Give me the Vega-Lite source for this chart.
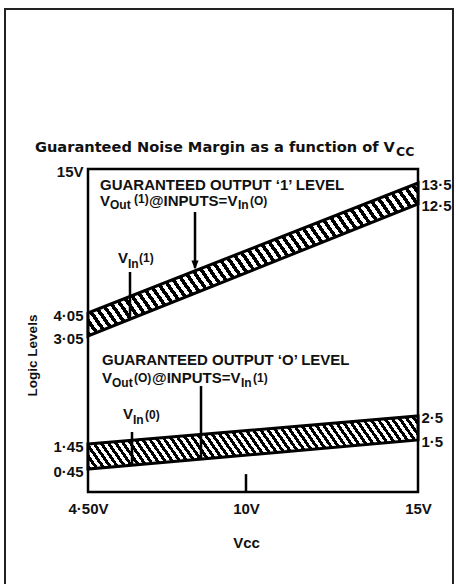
{
"$schema":"https://vega.github.io/schema/vega-lite/v6.json",
"width":330,"height":323,
"autosize":{"type":"none"},
"padding":{"left":88,"top":169,"right":38,"bottom":92},
"background":"#ffffff",
"config":{"view":{"stroke":"#000","strokeWidth":2.5}},
"datasets":{
"page":[{"x":1.611,"x2":16.017,"y":32.14,"y2":-2.5}],
"bands":[{"band":"high","x":4.5,"y":4.05,"y2":3.05},{"band":"high","x":15,"y":13.5,"y2":12.5},{"band":"low","x":4.5,"y":1.45,"y2":0.45},{"band":"low","x":15,"y":2.5,"y2":1.5}],
"markers":[{"x":8.225,"y":11.88,"y2":7.55},{"x":5.962,"y":7.228,"y2":3.833},{"x":8.434,"y":2.706,"y2":0.85},{"x":6.032,"y":1.833,"y2":0.61},{"x":10,"y":0,"y2":0.35}],
"main":[{"label":"GUARANTEED OUTPUT ‘1’ LEVEL","x":4.918,"y":13.405},{"label":"V","x":4.918,"y":12.643},{"label":"@INPUTS=V","x":6.623,"y":12.643},{"label":"V","x":5.544,"y":8.314},{"label":"GUARANTEED OUTPUT ‘O’ LEVEL","x":4.987,"y":2.885},{"label":"V","x":4.987,"y":2.761},{"label":"@INPUTS=V","x":6.728,"y":2.761},{"label":"V","x":5.718,"y":2.514}],
"sub":[{"label":"Out","x":5.266,"y":12.384},{"label":"In","x":9.722,"y":12.384},{"label":"In","x":5.892,"y":7.849},{"label":"Out","x":5.335,"y":2.727},{"label":"In","x":9.826,"y":2.727},{"label":"In","x":6.066,"y":2.333}],
"paren":[{"label":"(1)","x":6.101,"y":12.738},{"label":"(O)","x":10.116,"y":12.643},{"label":"(1)","x":6.275,"y":8.314},{"label":"(O)","x":6.101,"y":2.761},{"label":"(1)","x":10.203,"y":2.761},{"label":"(0)","x":6.484,"y":2.507}],
"heading":[{"label":"Guaranteed Noise Margin as a function of V","x":2.655,"y":17.25}],
"headingSub":[{"label":"CC","x":14.36,"y":16.82}]
},
"encoding":{
"x":{"field":"x","type":"quantitative","scale":{"domain":[4.5,10,15],"range":[0,158,330],"nice":false,"zero":false},"axis":null},
"y":{"field":"y","type":"quantitative","scale":{"domain":[0,0.45,1.45,1.5,2.5,3.05,4.05,12.5,13.5,15],"range":[323,300,275,271,247,167,144,35,14,0],"nice":false,"zero":false},"axis":null}
},
"layer":[
{"data":{"name":"page"},"mark":{"type":"rect","filled":false,"stroke":"#222","strokeWidth":2},"encoding":{"x2":{"field":"x2"},"y2":{"field":"y2"}}},
{"data":{"name":"bands"},"transform":[{"filter":"datum.band == 'high'"}],
"mark":{"type":"area","opacity":1,"stroke":"#000","strokeWidth":3,"fill":{"gradient":"linear","x1":0,"y1":1,"x2":1.198,"y2":0.612,"stops":[
{"offset":0,"color":"#000"},{"offset":0.01,"color":"#000"},{"offset":0.01,"color":"#fff"},{"offset":0.02,"color":"#fff"},
{"offset":0.02,"color":"#000"},{"offset":0.03,"color":"#000"},{"offset":0.03,"color":"#fff"},{"offset":0.04,"color":"#fff"},
{"offset":0.04,"color":"#000"},{"offset":0.05,"color":"#000"},{"offset":0.05,"color":"#fff"},{"offset":0.06,"color":"#fff"},
{"offset":0.06,"color":"#000"},{"offset":0.07,"color":"#000"},{"offset":0.07,"color":"#fff"},{"offset":0.08,"color":"#fff"},
{"offset":0.08,"color":"#000"},{"offset":0.09,"color":"#000"},{"offset":0.09,"color":"#fff"},{"offset":0.1,"color":"#fff"},
{"offset":0.1,"color":"#000"},{"offset":0.11,"color":"#000"},{"offset":0.11,"color":"#fff"},{"offset":0.12,"color":"#fff"},
{"offset":0.12,"color":"#000"},{"offset":0.13,"color":"#000"},{"offset":0.13,"color":"#fff"},{"offset":0.14,"color":"#fff"},
{"offset":0.14,"color":"#000"},{"offset":0.15,"color":"#000"},{"offset":0.15,"color":"#fff"},{"offset":0.16,"color":"#fff"},
{"offset":0.16,"color":"#000"},{"offset":0.17,"color":"#000"},{"offset":0.17,"color":"#fff"},{"offset":0.18,"color":"#fff"},
{"offset":0.18,"color":"#000"},{"offset":0.19,"color":"#000"},{"offset":0.19,"color":"#fff"},{"offset":0.2,"color":"#fff"},
{"offset":0.2,"color":"#000"},{"offset":0.21,"color":"#000"},{"offset":0.21,"color":"#fff"},{"offset":0.22,"color":"#fff"},
{"offset":0.22,"color":"#000"},{"offset":0.23,"color":"#000"},{"offset":0.23,"color":"#fff"},{"offset":0.24,"color":"#fff"},
{"offset":0.24,"color":"#000"},{"offset":0.25,"color":"#000"},{"offset":0.25,"color":"#fff"},{"offset":0.26,"color":"#fff"},
{"offset":0.26,"color":"#000"},{"offset":0.27,"color":"#000"},{"offset":0.27,"color":"#fff"},{"offset":0.28,"color":"#fff"},
{"offset":0.28,"color":"#000"},{"offset":0.29,"color":"#000"},{"offset":0.29,"color":"#fff"},{"offset":0.3,"color":"#fff"},
{"offset":0.3,"color":"#000"},{"offset":0.31,"color":"#000"},{"offset":0.31,"color":"#fff"},{"offset":0.32,"color":"#fff"},
{"offset":0.32,"color":"#000"},{"offset":0.33,"color":"#000"},{"offset":0.33,"color":"#fff"},{"offset":0.34,"color":"#fff"},
{"offset":0.34,"color":"#000"},{"offset":0.35,"color":"#000"},{"offset":0.35,"color":"#fff"},{"offset":0.36,"color":"#fff"},
{"offset":0.36,"color":"#000"},{"offset":0.37,"color":"#000"},{"offset":0.37,"color":"#fff"},{"offset":0.38,"color":"#fff"},
{"offset":0.38,"color":"#000"},{"offset":0.39,"color":"#000"},{"offset":0.39,"color":"#fff"},{"offset":0.4,"color":"#fff"},
{"offset":0.4,"color":"#000"},{"offset":0.41,"color":"#000"},{"offset":0.41,"color":"#fff"},{"offset":0.42,"color":"#fff"},
{"offset":0.42,"color":"#000"},{"offset":0.43,"color":"#000"},{"offset":0.43,"color":"#fff"},{"offset":0.44,"color":"#fff"},
{"offset":0.44,"color":"#000"},{"offset":0.45,"color":"#000"},{"offset":0.45,"color":"#fff"},{"offset":0.46,"color":"#fff"},
{"offset":0.46,"color":"#000"},{"offset":0.47,"color":"#000"},{"offset":0.47,"color":"#fff"},{"offset":0.48,"color":"#fff"},
{"offset":0.48,"color":"#000"},{"offset":0.49,"color":"#000"},{"offset":0.49,"color":"#fff"},{"offset":0.5,"color":"#fff"},
{"offset":0.5,"color":"#000"},{"offset":0.51,"color":"#000"},{"offset":0.51,"color":"#fff"},{"offset":0.52,"color":"#fff"},
{"offset":0.52,"color":"#000"},{"offset":0.53,"color":"#000"},{"offset":0.53,"color":"#fff"},{"offset":0.54,"color":"#fff"},
{"offset":0.54,"color":"#000"},{"offset":0.55,"color":"#000"},{"offset":0.55,"color":"#fff"},{"offset":0.56,"color":"#fff"},
{"offset":0.56,"color":"#000"},{"offset":0.57,"color":"#000"},{"offset":0.57,"color":"#fff"},{"offset":0.58,"color":"#fff"},
{"offset":0.58,"color":"#000"},{"offset":0.59,"color":"#000"},{"offset":0.59,"color":"#fff"},{"offset":0.6,"color":"#fff"},
{"offset":0.6,"color":"#000"},{"offset":0.61,"color":"#000"},{"offset":0.61,"color":"#fff"},{"offset":0.62,"color":"#fff"},
{"offset":0.62,"color":"#000"},{"offset":0.63,"color":"#000"},{"offset":0.63,"color":"#fff"},{"offset":0.64,"color":"#fff"},
{"offset":0.64,"color":"#000"},{"offset":0.65,"color":"#000"},{"offset":0.65,"color":"#fff"},{"offset":0.66,"color":"#fff"},
{"offset":0.66,"color":"#000"},{"offset":0.67,"color":"#000"},{"offset":0.67,"color":"#fff"},{"offset":0.68,"color":"#fff"},
{"offset":0.68,"color":"#000"},{"offset":0.69,"color":"#000"},{"offset":0.69,"color":"#fff"},{"offset":0.7,"color":"#fff"},
{"offset":0.7,"color":"#000"},{"offset":0.71,"color":"#000"},{"offset":0.71,"color":"#fff"},{"offset":0.72,"color":"#fff"},
{"offset":0.72,"color":"#000"},{"offset":0.73,"color":"#000"},{"offset":0.73,"color":"#fff"},{"offset":0.74,"color":"#fff"},
{"offset":0.74,"color":"#000"},{"offset":0.75,"color":"#000"},{"offset":0.75,"color":"#fff"},{"offset":0.76,"color":"#fff"},
{"offset":0.76,"color":"#000"},{"offset":0.77,"color":"#000"},{"offset":0.77,"color":"#fff"},{"offset":0.78,"color":"#fff"},
{"offset":0.78,"color":"#000"},{"offset":0.79,"color":"#000"},{"offset":0.79,"color":"#fff"},{"offset":0.8,"color":"#fff"},
{"offset":0.8,"color":"#000"},{"offset":0.81,"color":"#000"},{"offset":0.81,"color":"#fff"},{"offset":0.82,"color":"#fff"},
{"offset":0.82,"color":"#000"},{"offset":0.83,"color":"#000"},{"offset":0.83,"color":"#fff"},{"offset":0.84,"color":"#fff"},
{"offset":0.84,"color":"#000"},{"offset":0.85,"color":"#000"},{"offset":0.85,"color":"#fff"},{"offset":0.86,"color":"#fff"},
{"offset":0.86,"color":"#000"},{"offset":0.87,"color":"#000"},{"offset":0.87,"color":"#fff"},{"offset":0.88,"color":"#fff"},
{"offset":0.88,"color":"#000"},{"offset":0.89,"color":"#000"},{"offset":0.89,"color":"#fff"},{"offset":0.9,"color":"#fff"},
{"offset":0.9,"color":"#000"},{"offset":0.91,"color":"#000"},{"offset":0.91,"color":"#fff"},{"offset":0.92,"color":"#fff"},
{"offset":0.92,"color":"#000"},{"offset":0.93,"color":"#000"},{"offset":0.93,"color":"#fff"},{"offset":0.94,"color":"#fff"},
{"offset":0.94,"color":"#000"},{"offset":0.95,"color":"#000"},{"offset":0.95,"color":"#fff"},{"offset":0.96,"color":"#fff"},
{"offset":0.96,"color":"#000"},{"offset":0.97,"color":"#000"},{"offset":0.97,"color":"#fff"},{"offset":0.98,"color":"#fff"},
{"offset":0.98,"color":"#000"},{"offset":0.99,"color":"#000"},{"offset":0.99,"color":"#fff"},{"offset":1,"color":"#fff"}]}},
"encoding":{
"y":{"field":"y","type":"quantitative","scale":{"domain":[0,0.45,1.45,1.5,2.5,3.05,4.05,12.5,13.5,15],"range":[323,300,275,271,247,167,144,35,14,0],"nice":false,"zero":false},
"axis":{"orient":"left","values":[0.45,1.45,3.05,4.05,15],"labelExpr":"datum.value == 15 ? '15V' : replace(format(datum.value, '.2f'), '.', '·')","ticks":false,"domain":false,"grid":false,"labelOverlap":false,"labelFont":"Liberation Sans","labelFontWeight":"bold","labelFontSize":15,"labelColor":"#111","labelPadding":5,"labelOffset":2,"title":"Logic Levels","titleFont":"Liberation Sans","titleFontWeight":"bold","titleFontSize":13.5,"titleColor":"#111","titleX":-56,"titleY":186,"titleAngle":270,"titleAlign":"center","titleBaseline":"middle"}},
"y2":{"field":"y2"}}},
{"data":{"name":"bands"},"transform":[{"filter":"datum.band == 'low'"}],
"mark":{"type":"area","opacity":1,"stroke":"#000","strokeWidth":3,"fill":{"gradient":"linear","x1":0,"y1":1,"x2":1.0985,"y2":0.8766,"stops":[
{"offset":0,"color":"#000"},{"offset":0.01,"color":"#000"},{"offset":0.01,"color":"#fff"},{"offset":0.02,"color":"#fff"},
{"offset":0.02,"color":"#000"},{"offset":0.03,"color":"#000"},{"offset":0.03,"color":"#fff"},{"offset":0.04,"color":"#fff"},
{"offset":0.04,"color":"#000"},{"offset":0.05,"color":"#000"},{"offset":0.05,"color":"#fff"},{"offset":0.06,"color":"#fff"},
{"offset":0.06,"color":"#000"},{"offset":0.07,"color":"#000"},{"offset":0.07,"color":"#fff"},{"offset":0.08,"color":"#fff"},
{"offset":0.08,"color":"#000"},{"offset":0.09,"color":"#000"},{"offset":0.09,"color":"#fff"},{"offset":0.1,"color":"#fff"},
{"offset":0.1,"color":"#000"},{"offset":0.11,"color":"#000"},{"offset":0.11,"color":"#fff"},{"offset":0.12,"color":"#fff"},
{"offset":0.12,"color":"#000"},{"offset":0.13,"color":"#000"},{"offset":0.13,"color":"#fff"},{"offset":0.14,"color":"#fff"},
{"offset":0.14,"color":"#000"},{"offset":0.15,"color":"#000"},{"offset":0.15,"color":"#fff"},{"offset":0.16,"color":"#fff"},
{"offset":0.16,"color":"#000"},{"offset":0.17,"color":"#000"},{"offset":0.17,"color":"#fff"},{"offset":0.18,"color":"#fff"},
{"offset":0.18,"color":"#000"},{"offset":0.19,"color":"#000"},{"offset":0.19,"color":"#fff"},{"offset":0.2,"color":"#fff"},
{"offset":0.2,"color":"#000"},{"offset":0.21,"color":"#000"},{"offset":0.21,"color":"#fff"},{"offset":0.22,"color":"#fff"},
{"offset":0.22,"color":"#000"},{"offset":0.23,"color":"#000"},{"offset":0.23,"color":"#fff"},{"offset":0.24,"color":"#fff"},
{"offset":0.24,"color":"#000"},{"offset":0.25,"color":"#000"},{"offset":0.25,"color":"#fff"},{"offset":0.26,"color":"#fff"},
{"offset":0.26,"color":"#000"},{"offset":0.27,"color":"#000"},{"offset":0.27,"color":"#fff"},{"offset":0.28,"color":"#fff"},
{"offset":0.28,"color":"#000"},{"offset":0.29,"color":"#000"},{"offset":0.29,"color":"#fff"},{"offset":0.3,"color":"#fff"},
{"offset":0.3,"color":"#000"},{"offset":0.31,"color":"#000"},{"offset":0.31,"color":"#fff"},{"offset":0.32,"color":"#fff"},
{"offset":0.32,"color":"#000"},{"offset":0.33,"color":"#000"},{"offset":0.33,"color":"#fff"},{"offset":0.34,"color":"#fff"},
{"offset":0.34,"color":"#000"},{"offset":0.35,"color":"#000"},{"offset":0.35,"color":"#fff"},{"offset":0.36,"color":"#fff"},
{"offset":0.36,"color":"#000"},{"offset":0.37,"color":"#000"},{"offset":0.37,"color":"#fff"},{"offset":0.38,"color":"#fff"},
{"offset":0.38,"color":"#000"},{"offset":0.39,"color":"#000"},{"offset":0.39,"color":"#fff"},{"offset":0.4,"color":"#fff"},
{"offset":0.4,"color":"#000"},{"offset":0.41,"color":"#000"},{"offset":0.41,"color":"#fff"},{"offset":0.42,"color":"#fff"},
{"offset":0.42,"color":"#000"},{"offset":0.43,"color":"#000"},{"offset":0.43,"color":"#fff"},{"offset":0.44,"color":"#fff"},
{"offset":0.44,"color":"#000"},{"offset":0.45,"color":"#000"},{"offset":0.45,"color":"#fff"},{"offset":0.46,"color":"#fff"},
{"offset":0.46,"color":"#000"},{"offset":0.47,"color":"#000"},{"offset":0.47,"color":"#fff"},{"offset":0.48,"color":"#fff"},
{"offset":0.48,"color":"#000"},{"offset":0.49,"color":"#000"},{"offset":0.49,"color":"#fff"},{"offset":0.5,"color":"#fff"},
{"offset":0.5,"color":"#000"},{"offset":0.51,"color":"#000"},{"offset":0.51,"color":"#fff"},{"offset":0.52,"color":"#fff"},
{"offset":0.52,"color":"#000"},{"offset":0.53,"color":"#000"},{"offset":0.53,"color":"#fff"},{"offset":0.54,"color":"#fff"},
{"offset":0.54,"color":"#000"},{"offset":0.55,"color":"#000"},{"offset":0.55,"color":"#fff"},{"offset":0.56,"color":"#fff"},
{"offset":0.56,"color":"#000"},{"offset":0.57,"color":"#000"},{"offset":0.57,"color":"#fff"},{"offset":0.58,"color":"#fff"},
{"offset":0.58,"color":"#000"},{"offset":0.59,"color":"#000"},{"offset":0.59,"color":"#fff"},{"offset":0.6,"color":"#fff"},
{"offset":0.6,"color":"#000"},{"offset":0.61,"color":"#000"},{"offset":0.61,"color":"#fff"},{"offset":0.62,"color":"#fff"},
{"offset":0.62,"color":"#000"},{"offset":0.63,"color":"#000"},{"offset":0.63,"color":"#fff"},{"offset":0.64,"color":"#fff"},
{"offset":0.64,"color":"#000"},{"offset":0.65,"color":"#000"},{"offset":0.65,"color":"#fff"},{"offset":0.66,"color":"#fff"},
{"offset":0.66,"color":"#000"},{"offset":0.67,"color":"#000"},{"offset":0.67,"color":"#fff"},{"offset":0.68,"color":"#fff"},
{"offset":0.68,"color":"#000"},{"offset":0.69,"color":"#000"},{"offset":0.69,"color":"#fff"},{"offset":0.7,"color":"#fff"},
{"offset":0.7,"color":"#000"},{"offset":0.71,"color":"#000"},{"offset":0.71,"color":"#fff"},{"offset":0.72,"color":"#fff"},
{"offset":0.72,"color":"#000"},{"offset":0.73,"color":"#000"},{"offset":0.73,"color":"#fff"},{"offset":0.74,"color":"#fff"},
{"offset":0.74,"color":"#000"},{"offset":0.75,"color":"#000"},{"offset":0.75,"color":"#fff"},{"offset":0.76,"color":"#fff"},
{"offset":0.76,"color":"#000"},{"offset":0.77,"color":"#000"},{"offset":0.77,"color":"#fff"},{"offset":0.78,"color":"#fff"},
{"offset":0.78,"color":"#000"},{"offset":0.79,"color":"#000"},{"offset":0.79,"color":"#fff"},{"offset":0.8,"color":"#fff"},
{"offset":0.8,"color":"#000"},{"offset":0.81,"color":"#000"},{"offset":0.81,"color":"#fff"},{"offset":0.82,"color":"#fff"},
{"offset":0.82,"color":"#000"},{"offset":0.83,"color":"#000"},{"offset":0.83,"color":"#fff"},{"offset":0.84,"color":"#fff"},
{"offset":0.84,"color":"#000"},{"offset":0.85,"color":"#000"},{"offset":0.85,"color":"#fff"},{"offset":0.86,"color":"#fff"},
{"offset":0.86,"color":"#000"},{"offset":0.87,"color":"#000"},{"offset":0.87,"color":"#fff"},{"offset":0.88,"color":"#fff"},
{"offset":0.88,"color":"#000"},{"offset":0.89,"color":"#000"},{"offset":0.89,"color":"#fff"},{"offset":0.9,"color":"#fff"},
{"offset":0.9,"color":"#000"},{"offset":0.91,"color":"#000"},{"offset":0.91,"color":"#fff"},{"offset":0.92,"color":"#fff"},
{"offset":0.92,"color":"#000"},{"offset":0.93,"color":"#000"},{"offset":0.93,"color":"#fff"},{"offset":0.94,"color":"#fff"},
{"offset":0.94,"color":"#000"},{"offset":0.95,"color":"#000"},{"offset":0.95,"color":"#fff"},{"offset":0.96,"color":"#fff"},
{"offset":0.96,"color":"#000"},{"offset":0.97,"color":"#000"},{"offset":0.97,"color":"#fff"},{"offset":0.98,"color":"#fff"},
{"offset":0.98,"color":"#000"},{"offset":0.99,"color":"#000"},{"offset":0.99,"color":"#fff"},{"offset":1,"color":"#fff"}]}},
"encoding":{
"y":{"field":"y","type":"quantitative","scale":{"domain":[0,0.45,1.45,1.5,2.5,3.05,4.05,12.5,13.5,15],"range":[323,300,275,271,247,167,144,35,14,0],"nice":false,"zero":false},
"axis":{"orient":"right","values":[1.5,2.5,12.5,13.5],"labelExpr":"replace(format(datum.value, '.1f'), '.', '·')","ticks":false,"domain":false,"grid":false,"labelOverlap":false,"labelFont":"Liberation Sans","labelFontWeight":"bold","labelFontSize":15,"labelColor":"#111","labelPadding":3,"labelOffset":1,"title":null}},
"y2":{"field":"y2"}}},
{"data":{"name":"markers"},"mark":{"type":"rule","stroke":"#000","strokeWidth":2.5},
"encoding":{"x":{"field":"x","type":"quantitative","scale":{"domain":[4.5,10,15],"range":[0,158,330],"nice":false,"zero":false},
"axis":{"orient":"bottom","values":[4.5,10,15],"labelExpr":"datum.value == 4.5 ? '4·50V' : format(datum.value, 'd') + 'V'","ticks":false,"domain":false,"grid":false,"labelFlush":false,"labelOverlap":false,"labelFont":"Liberation Sans","labelFontWeight":"bold","labelFontSize":15,"labelColor":"#111","labelPadding":9,"title":"Vcc","titleFont":"Liberation Sans","titleFontWeight":"bold","titleFontSize":15,"titleColor":"#111","titleX":158,"titleY":50,"titleAlign":"center","titleBaseline":"middle"}},
"y2":{"field":"y2"}}},
{"data":{"values":[{"x":8.225,"y":7.771}]},"mark":{"type":"point","shape":"M-0.8,-1L0.8,-1L0,1Z","size":81,"filled":true,"color":"#000","opacity":1}},
{"data":{"name":"main"},"mark":{"type":"text","align":"left","baseline":"middle","font":"Liberation Sans","fontWeight":"bold","fontSize":15,"color":"#111"},"encoding":{"text":{"field":"label"}}},
{"data":{"name":"sub"},"mark":{"type":"text","align":"left","baseline":"middle","font":"Liberation Sans","fontWeight":"bold","fontSize":12,"color":"#111"},"encoding":{"text":{"field":"label"}}},
{"data":{"name":"paren"},"mark":{"type":"text","align":"left","baseline":"middle","font":"Liberation Sans","fontWeight":"bold","fontSize":12,"color":"#111"},"encoding":{"text":{"field":"label"}}},
{"data":{"name":"heading"},"mark":{"type":"text","align":"left","baseline":"middle","font":"DejaVu Sans","fontWeight":"bold","fontSize":14.6,"color":"#111"},"encoding":{"text":{"field":"label"}}},
{"data":{"name":"headingSub"},"mark":{"type":"text","align":"left","baseline":"middle","font":"DejaVu Sans","fontWeight":"bold","fontSize":12.5,"color":"#111"},"encoding":{"text":{"field":"label"}}}
],
"resolve":{"axis":{"x":"independent","y":"independent"}}
}
